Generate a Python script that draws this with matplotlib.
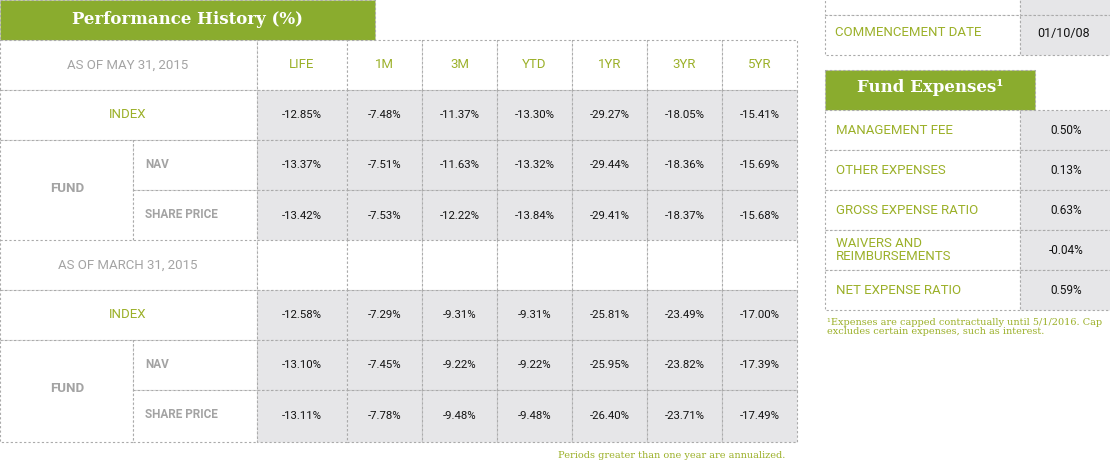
import matplotlib
matplotlib.use("Agg")
import matplotlib.pyplot as plt
from matplotlib.patches import Rectangle

periods = ["LIFE", "1M", "3M", "YTD", "1YR", "3YR", "5YR"]
may_index = ["-12.85%", "-7.48%", "-11.37%", "-13.30%", "-29.27%", "-18.05%", "-15.41%"]
may_nav = ["-13.37%", "-7.51%", "-11.63%", "-13.32%", "-29.44%", "-18.36%", "-15.69%"]
may_sp = ["-13.42%", "-7.53%", "-12.22%", "-13.84%", "-29.41%", "-18.37%", "-15.68%"]
mar_index = ["-12.58%", "-7.29%", "-9.31%", "-9.31%", "-25.81%", "-23.49%", "-17.00%"]
mar_nav = ["-13.10%", "-7.45%", "-9.22%", "-9.22%", "-25.95%", "-23.82%", "-17.39%"]
mar_sp = ["-13.11%", "-7.78%", "-9.48%", "-9.48%", "-26.40%", "-23.71%", "-17.49%"]
exp_labels = ["MANAGEMENT FEE", "OTHER EXPENSES", "GROSS EXPENSE RATIO", "WAIVERS AND\nREIMBURSEMENTS", "NET EXPENSE RATIO"]
exp_values = ["0.50%", "0.13%", "0.63%", "-0.04%", "0.59%"]

GREEN = "#8aac2e"; TGREEN = "#9bb028"; GRAY = "#a3a3a3"; FILL = "#e6e6e8"; LINE = "#aaaaaa"
fig = plt.figure(figsize=(11.1, 4.68), dpi=100)
ax = fig.add_axes([0, 0, 1, 1]); ax.set_xlim(0, 1110); ax.set_ylim(468, 0); ax.axis("off")
F = "Roboto"

def cell(x0, y0, x1, y1, fill="white"):
    ax.add_patch(Rectangle((x0, y0), x1-x0, y1-y0, facecolor=fill, edgecolor=LINE, lw=0.8, ls=(0, (2, 2))))

def txt(x, y, s, c="#111111", size=8.2, w="normal", ha="center", fam=F):
    ax.text(x, y, s, color=c, fontsize=size, fontweight=w, ha=ha, va="center", family=fam)

# title
ax.add_patch(Rectangle((0, 0), 375, 40, facecolor=GREEN, edgecolor=LINE, lw=0.8, ls=(0, (2, 2))))
txt(187, 19, "Performance History (%)", "white", 12, "bold", fam="DejaVu Serif")

xs = [257, 347, 422, 497, 572, 647, 722, 797]
def block(y0, date, idx, nav, sp, header):
    cell(0, y0, 257, y0+50); txt(128, y0+25, date, GRAY, 9.5)
    for i in range(7):
        cell(xs[i], y0, xs[i+1], y0+50)
        if header: txt((xs[i]+xs[i+1])/2, y0+25, periods[i], TGREEN, 9.5)
    cell(0, y0+50, 257, y0+100); txt(128, y0+75, "INDEX", TGREEN, 9.5)
    cell(0, y0+100, 133, y0+202); txt(67, y0+149, "FUND", GRAY, 9.5, "bold")
    cell(133, y0+100, 257, y0+150); txt(145, y0+124, "NAV", GRAY, 8.5, "bold", "left")
    cell(133, y0+150, 257, y0+202); txt(145, y0+175, "SHARE PRICE", GRAY, 8.5, "bold", "left")
    for r, vals in enumerate([idx, nav, sp]):
        ya = y0+50+50*r; yb = ya+50 if r < 2 else y0+202
        for i in range(7):
            cell(xs[i], ya, xs[i+1], yb, FILL)
            txt((xs[i]+xs[i+1])/2, (ya+yb)/2, vals[i])

block(40, "AS OF MAY 31, 2015", may_index, may_nav, may_sp, True)
block(240, "AS OF MARCH 31, 2015", mar_index, mar_nav, mar_sp, False)
txt(785, 455, "Periods greater than one year are annualized.", TGREEN, 7, ha="right", fam="DejaVu Serif")

# right side
cell(825, -5, 1020, 15); cell(1020, -5, 1115, 15, FILL)
cell(825, 15, 1020, 55); cell(1020, 15, 1115, 55, FILL)
txt(835, 33, "COMMENCEMENT DATE", TGREEN, 9.5, ha="left"); txt(1064, 33, "01/10/08", size=9)
ax.add_patch(Rectangle((825, 70), 210, 40, facecolor=GREEN, edgecolor=LINE, lw=0.8, ls=(0, (2, 2))))
txt(930, 88, "Fund Expenses¹", "white", 12, "bold", fam="DejaVu Serif")
for k, (l, v) in enumerate(zip(exp_labels, exp_values)):
    y0 = 110 + 40*k
    cell(825, y0, 1020, y0+40); cell(1020, y0, 1115, y0+40, FILL)
    ax.text(836, y0+20, l, color=TGREEN, fontsize=9.5, ha="left", va="center", family=F, linespacing=0.95)
    txt(1066, y0+20, v, size=8.5)
ax.text(827, 318, "¹Expenses are capped contractually until 5/1/2016. Cap\nexcludes certain expenses, such as interest.",
        color=TGREEN, fontsize=7, ha="left", va="top", family="DejaVu Serif", linespacing=1.0)
fig.savefig("out.png", dpi=100)
